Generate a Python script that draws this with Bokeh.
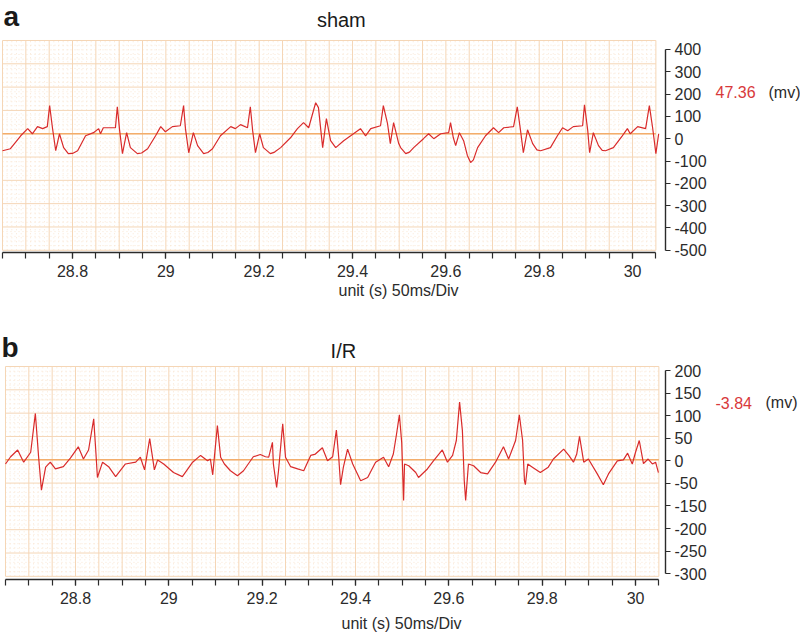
import numpy as np
from bokeh.plotting import figure
from bokeh.layouts import column
from bokeh.models import (FixedTicker, NumeralTickFormatter, Label, Range1d, Title,
                          LinearAxis)
from bokeh.embed import file_html
from bokeh.resources import INLINE

# ---------------- data ----------------
sham_t = [28.650, 28.667, 28.689, 28.704, 28.714, 28.725, 28.736, 28.746, 28.751, 28.757,
          28.764, 28.772, 28.781, 28.791, 28.800, 28.811, 28.828, 28.845, 28.856, 28.860,
          28.866, 28.881, 28.892, 28.896, 28.901, 28.907, 28.916, 28.924, 28.939, 28.948,
          28.961, 28.978, 28.989, 28.999, 29.014, 29.031, 29.038, 29.042, 29.049, 29.059,
          29.068, 29.081, 29.090, 29.100, 29.117, 29.139, 29.149, 29.160, 29.175, 29.181,
          29.186, 29.192, 29.201, 29.209, 29.224, 29.233, 29.246, 29.267, 29.282, 29.295,
          29.306, 29.321, 29.327, 29.336, 29.344, 29.353, 29.364, 29.381, 29.396, 29.417,
          29.428, 29.439, 29.460, 29.466, 29.475, 29.481, 29.488, 29.499, 29.503, 29.514,
          29.522, 29.531, 29.552, 29.563, 29.574, 29.589, 29.606, 29.610, 29.616, 29.621,
          29.629, 29.638, 29.646, 29.653, 29.659, 29.668, 29.685, 29.702, 29.713, 29.724,
          29.745, 29.753, 29.760, 29.766, 29.775, 29.786, 29.795, 29.803, 29.824, 29.839,
          29.850, 29.861, 29.873, 29.893, 29.897, 29.904, 29.908, 29.916, 29.927, 29.935,
          29.942, 29.959, 29.978, 29.989, 29.995, 30.011, 30.028, 30.036, 30.043, 30.050,
          30.056]
sham_mv = [-54, -45, 13, 45, 22, 54, 45, 54, 148, 49,
           -54, 22, -40, -67, -66, -54, 13, 27, 45, 22,
           49, 49, 49, 143, 36, -67, 27, -40, -67, -64,
           -45, 13, 54, 31, 54, 58, 148, 45, -63, 27,
           -31, -67, -62, -45, 13, 54, 45, 63, 49, 143,
           36, -63, 22, -40, -67, -60, -40, 4, 45, 72,
           49, 161, 139, -40, 90, -9, -40, -9, 13, 45,
           13, 45, 58, 148, 67, -22, 72, -22, -40, -67,
           -60, -40, 0, 22, 0, 22, 27, 72, 4, -31,
           27, -9, -75, -107, -95, -40, 13, 49, 27, 49,
           54, 143, 36, -63, 40, -22, -50, -54, -40, 13,
           49, 36, 54, 58, 152, 36, -63, 27, -31, -52,
           -54, -40, 13, 45, 22, 54, 45, 148, 49, -67,
           22]

ir_t = [28.650, 28.661, 28.676, 28.689, 28.704, 28.714, 28.721, 28.727, 28.736, 28.746,
        28.757, 28.774, 28.789, 28.806, 28.817, 28.828, 28.839, 28.843, 28.847, 28.858,
        28.871, 28.886, 28.907, 28.929, 28.939, 28.948, 28.959, 28.965, 28.969, 28.976,
        28.989, 29.010, 29.029, 29.051, 29.068, 29.083, 29.089, 29.094, 29.104, 29.111,
        29.119, 29.132, 29.147, 29.160, 29.181, 29.196, 29.207, 29.214, 29.222, 29.224,
        29.231, 29.235, 29.244, 29.250, 29.261, 29.276, 29.289, 29.304, 29.314, 29.329,
        29.340, 29.351, 29.359, 29.364, 29.368, 29.374, 29.383, 29.394, 29.411, 29.426,
        29.443, 29.460, 29.471, 29.481, 29.488, 29.494, 29.499, 29.503, 29.505, 29.514,
        29.529, 29.535, 29.554, 29.567, 29.586, 29.597, 29.608, 29.616, 29.623, 29.629,
        29.633, 29.636, 29.642, 29.653, 29.668, 29.683, 29.700, 29.717, 29.728, 29.743,
        29.751, 29.758, 29.762, 29.764, 29.769, 29.779, 29.796, 29.813, 29.824, 29.846,
        29.857, 29.867, 29.874, 29.880, 29.889, 29.899, 29.918, 29.931, 29.942, 29.961,
        29.974, 29.983, 29.993, 30.000, 30.008, 30.017, 30.027, 30.036, 30.043, 30.049]
ir_mv = [-7, 9, 24, -3, 19, 105, 8, -65, -14, -3,
         -18, -13, 6, 31, 4, 24, 93, 30, -37, -3,
         -13, -35, -7, -3, 8, -20, 49, 8, -20, 2,
         -7, -26, -35, -3, 12, 0, 4, -31, 78, 8,
         -7, -22, -33, -22, 9, 14, 9, 8, 41, -7,
         -59, -22, 82, 8, -13, -18, -22, 12, 15, 29,
         0, 9, 68, 8, -53, -14, 26, -7, -44, -37,
         -3, 8, -13, 15, 60, 102, 40, -88, -7, -11,
         -26, -37, -18, 0, 24, -3, 12, 45, 130, 67,
         -44, -88, -7, -11, -26, -29, -3, 31, 4, 45,
         102, 45, -44, -53, -7, -14, -26, -14, 4, 26,
         12, -3, 15, 54, -3, 4, -29, -53, -29, 0,
         2, 17, -7, 19, 45, -6, 4, -7, -3, -26]

x_label_ticks = [28.8, 29.0, 29.2, 29.4, 29.6, 29.8, 30.0]
x_first, x_last, x_div = 28.65, 30.05, 0.05          # 50 ms / Div
sham_ytick_pos = [400, 300, 200, 100, 0, -100, -200, -300, -400, -500]
sham_ytick_labels = ["400", "300", "200", "100", "0", "-100", "-200", "-300", "-400", "-500"]
ir_ytick_pos = [200, 150, 100, 50, 0, -50, -100, -150, -200, -250]
ir_ytick_labels = ["200", "150", "100", "50", "0", "-50", "-150", "-200", "-250", "-300"]
sham_readout = "47.36"
ir_readout = "-3.84"
unit_text = "unit (s) 50ms/Div"

FONT = "Liberation Sans"
TRACE = "#d92b2b"
MAJOR = "#f5d6b6"
MINOR = "#f9e6d3"
ZERO = "#f3ad6b"
INK = "#2b2b2b"


def make_panel(t, mv, fh, bottom, xr, yr, grid_y, yticks, yaxis_bounds, ylabels,
               letter, title, readout, read_y, read_gap, mv_gap, txt, unit_offset,
               unit_standoff):
    p = figure(frame_width=665, frame_height=fh, x_range=Range1d(*xr),
               y_range=Range1d(*yr), output_backend="svg", toolbar_location=None,
               y_axis_location="right", min_border_left=0, min_border_right=135,
               min_border_top=0, min_border_bottom=bottom)
    p.outline_line_color = None
    p.background_fill_color = "white"
    p.border_fill_color = "white"
    p.xgrid.visible = False
    p.ygrid.visible = False

    n_div = int(round((x_last - x_first) / x_div))
    vx = [round(x_first + i * x_div, 4) for i in range(n_div + 1)]
    hy = list(np.linspace(grid_y[0], grid_y[1], 10))
    mvx = [round(x_first + i * x_div / 5, 5) for i in range(n_div * 5 + 1) if i % 5]
    step = (grid_y[1] - grid_y[0]) / 9
    mhy = [grid_y[0] + j * step / 5 for j in range(9 * 5 + 1) if j % 5]
    p.multi_line([[x, x] for x in mvx], [list(grid_y)] * len(mvx),
                 line_color=MINOR, line_width=1, line_dash="1 3")
    p.multi_line([[x_first, x_last]] * len(mhy), [[y, y] for y in mhy],
                 line_color=MINOR, line_width=1, line_dash="1 3")
    p.multi_line([[x, x] for x in vx], [list(grid_y)] * len(vx),
                 line_color=MAJOR, line_width=1)
    p.multi_line([[x_first, x_last]] * len(hy), [[y, y] for y in hy],
                 line_color=MAJOR, line_width=1)
    p.line([x_first, x_last], [hy[5], hy[5]], line_color=ZERO, line_width=1.3)

    p.line(t, mv, line_color=TRACE, line_width=1.2)

    xa = p.xaxis[0]
    xa.ticker = FixedTicker(ticks=x_label_ticks, minor_ticks=vx)
    xa.formatter = NumeralTickFormatter(format="0.[0]")
    xa.bounds = (x_first, x_last)
    ya = p.yaxis[0]
    ya.ticker = FixedTicker(ticks=yticks, minor_ticks=[])
    ya.bounds = yaxis_bounds
    ya.major_label_overrides = {k: v for k, v in zip(yticks, ylabels)}
    for ax in (xa, ya):
        ax.axis_line_color = INK
        ax.axis_line_width = 1.4
        ax.major_tick_line_color = INK
        ax.minor_tick_line_color = INK
        ax.major_tick_line_width = 1.2
        ax.minor_tick_line_width = 1.2
        ax.major_tick_in = 0
        ax.minor_tick_in = 0
        ax.major_label_text_font = FONT
        ax.major_label_text_font_size = "16px"
        ax.major_label_text_color = INK
    xa.major_tick_out = 6
    xa.minor_tick_out = 6
    xa.major_label_standoff = 6
    ya.major_tick_out = 5
    ya.major_label_standoff = 4

    # value readout and unit, right of the y axis
    for text, color, gap in ((readout, "#d8393b", read_gap), ("(mv)", INK, mv_gap)):
        ra = LinearAxis(ticker=FixedTicker(ticks=[read_y], minor_ticks=[]),
                        major_label_overrides={read_y: text})
        ra.axis_line_color = None
        ra.major_tick_line_color = None
        ra.minor_tick_line_color = None
        ra.major_tick_out = 0
        ra.major_tick_in = 0
        ra.major_label_standoff = gap
        ra.major_label_text_font = FONT
        ra.major_label_text_font_size = "16px"
        ra.major_label_text_color = color
        p.add_layout(ra, "right")

    p.add_layout(Title(text=unit_text, align="left", offset=unit_offset,
                       standoff=unit_standoff, text_font=FONT, text_font_size="16px",
                       text_font_style="normal", text_color=INK), "below")

    lx, ly = txt["letter"]
    p.add_layout(Label(x=lx, y=ly, text=letter, text_font=FONT, text_font_style="bold",
                       text_font_size="28px", text_color="#1a1a1a",
                       text_baseline="alphabetic"))
    tx, ty = txt["title"]
    p.add_layout(Label(x=tx, y=ty, text=title, text_font=FONT, text_font_size="20px",
                       text_color="#1a1a1a", text_align="center",
                       text_baseline="alphabetic"))
    return p


pa = make_panel(sham_t, sham_mv, 252, 66, (28.6457, 30.0706), (-510, 619.2), (-500, 440),
                sham_ytick_pos, (-500, 400), sham_ytick_labels, "a", "sham",
                sham_readout, 207, 6, 10,
                {"letter": (28.652, 547), "title": (29.376, 534)}, 338, 0)
pb = make_panel(ir_t, ir_mv, 261, 56, (28.6393, 30.0642), (-263, 315.4), (-256, 209),
                ir_ytick_pos, (-250, 200), ir_ytick_labels, "b", "I/R", ir_readout, 129,
                6, 11, {"letter": (28.6414, 251), "title": (29.374, 244)}, 341, 13)

layout = column(pa, pb, spacing=0)
open("out.html", "w").write(file_html(layout, INLINE))
